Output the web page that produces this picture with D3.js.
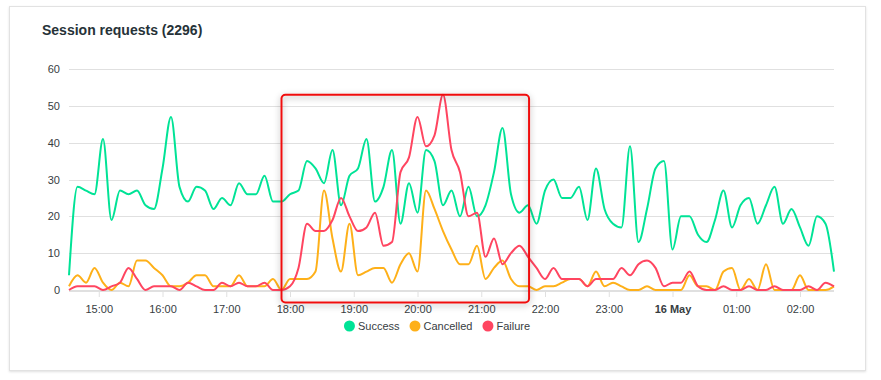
<!DOCTYPE html>
<html>
<head>
<meta charset="utf-8">
<script src="https://cdn.jsdelivr.net/npm/d3@7.9.0/dist/d3.min.js"></script>
<style>
  body { margin: 0; background: #fff; font-family: "Liberation Sans", Arial, Helvetica, sans-serif; }
  svg { display: block; }
</style>
</head>
<body>
<svg id="chart" width="881" height="380"></svg>
<script>
// one sample every 8 minutes, from 14:32 on 15 May
const startTime = new Date(2024, 4, 15, 14, 32);
const stepMinutes = 8;

const success = [4, 28, 27, 26, 41, 19, 27, 26, 27, 23, 22, 33, 47, 28, 24, 28, 27, 22, 25, 23,
  29, 26, 26, 31, 24, 24, 26, 27, 35, 33, 29, 38, 23, 31, 33, 41, 24, 28, 38, 18,
  29, 21, 38, 35, 23, 27, 20, 28, 20, 23, 32, 44, 26, 21, 23, 18, 27, 30, 25, 25,
  28, 19, 33, 22, 18, 17, 39, 13, 22, 33, 35, 11, 20, 20, 15, 13, 19, 27, 17, 23,
  25, 18, 23, 28, 18, 22, 17, 12, 20, 18, 5];
const cancelled = [1, 4, 2, 6, 2, 0, 2, 1, 8, 8, 6, 4, 1, 1, 2, 4, 4, 1, 1, 1,
  4, 1, 1, 1, 3, 0, 3, 3, 3, 5, 27, 14, 5, 18, 4, 5, 6, 6, 2, 7,
  10, 5, 27, 22, 16, 11, 7, 7, 12, 3, 6, 8, 3, 1, 1, 0, 1, 1, 2, 3,
  3, 1, 5, 1, 2, 1, 0, 0, 1, 0, 0, 0, 0, 4, 1, 1, 0, 5, 6, 0,
  3, 0, 7, 0, 0, 0, 4, 0, 0, 0, 1];
const failure = [0, 1, 1, 1, 0, 1, 2, 6, 3, 0, 1, 1, 1, 0, 2, 1, 0, 0, 2, 1,
  2, 1, 1, 2, 0, 0, 1, 6, 18, 16, 16, 19, 25, 20, 16, 17, 21, 12, 13, 32,
  36, 47, 39, 42, 53, 38, 32, 20, 21, 9, 14, 7, 10, 12, 9, 6, 3, 6, 3, 3,
  3, 1, 3, 3, 3, 6, 4, 7, 8, 6, 1, 2, 2, 5, 1, 0, 0, 1, 0, 0,
  1, 0, 0, 1, 0, 0, 0, 1, 0, 2, 1];

const seriesNames = ['Success', 'Cancelled', 'Failure'];
const seriesColors = ['#00E396', '#FEB019', '#FF4560'];

const tickLabels = ['15:00', '16:00', '17:00', '18:00', '19:00', '20:00', '21:00',
  '22:00', '23:00', '16 May', '01:00', '02:00'];
const yTicks = [0, 10, 20, 30, 40, 50, 60];

// highlighted window (red box drawn over the chart)
const highlightFrom = new Date(2024, 4, 15, 17, 52);
const highlightTo = new Date(2024, 4, 15, 21, 45);
const highlightTop = 53;
const highlightBottom = -3.4;

const times = success.map((_, i) => d3.timeMinute.offset(startTime, i * stepMinutes));
const tickTimes = d3.timeHour.range(new Date(2024, 4, 15, 15), new Date(2024, 4, 16, 2, 30));

const svg = d3.select('#chart');
const plot = { left: 69, right: 834, top: 69, bottom: 290 };

const x = d3.scaleTime().domain(d3.extent(times)).range([plot.left, plot.right]);
const y = d3.scaleLinear().domain([0, 60]).range([plot.bottom, plot.top]);

const defs = svg.append('defs');
defs.append('filter').attr('id', 'cardShadow').attr('x', '-5%').attr('y', '-5%').attr('width', '110%').attr('height', '110%')
  .append('feDropShadow').attr('dx', 0).attr('dy', 1).attr('stdDeviation', 1.2)
  .attr('flood-color', '#000').attr('flood-opacity', 0.12);
defs.append('filter').attr('id', 'boxShadow').attr('x', '-10%').attr('y', '-10%').attr('width', '120%').attr('height', '120%')
  .append('feDropShadow').attr('dx', 0).attr('dy', 2).attr('stdDeviation', 3)
  .attr('flood-color', '#000').attr('flood-opacity', 0.35);

// card
svg.append('rect')
  .attr('x', 9.5).attr('y', 6.5).attr('width', 856).attr('height', 364)
  .attr('fill', '#fff').attr('stroke', '#e2e2e2').attr('stroke-width', 1)
  .attr('filter', 'url(#cardShadow)');

svg.append('text')
  .attr('x', 42).attr('y', 35)
  .attr('font-size', 14).attr('font-weight', 'bold').attr('fill', '#263238')
  .text('Session requests (2296)');

// horizontal grid + y labels
svg.append('g')
  .selectAll('line')
  .data(yTicks)
  .join('line')
  .attr('x1', plot.left).attr('x2', plot.right)
  .attr('y1', d => Math.round(y(d)) + 0.5).attr('y2', d => Math.round(y(d)) + 0.5)
  .attr('stroke', '#e0e0e0');

svg.append('g')
  .selectAll('text')
  .data(yTicks)
  .join('text')
  .attr('x', 60).attr('y', d => y(d) + 4)
  .attr('text-anchor', 'end').attr('font-size', 11).attr('fill', '#373d3f')
  .text(d => d);

// x axis
const xAxis = d3.axisBottom(x)
  .tickValues(tickTimes)
  .tickFormat((d, i) => tickLabels[i])
  .tickSize(6)
  .tickPadding(8);

const gx = svg.append('g').attr('transform', `translate(0,${plot.bottom + 1})`).call(xAxis);
gx.select('.domain').attr('stroke', '#e0e0e0').attr('d', `M${plot.left},0.5H${plot.right}`);
gx.selectAll('.tick line').attr('stroke', '#e0e0e0');
gx.selectAll('.tick text')
  .attr('font-size', 11).attr('fill', '#373d3f')
  .attr('font-family', '"Liberation Sans", Arial, sans-serif')
  .attr('font-weight', (d, i) => tickLabels[i] === '16 May' ? 'bold' : 'normal');

// lines
const line = d3.line()
  .x((d, i) => x(times[i]))
  .y(d => y(d))
  .curve(d3.curveMonotoneX);

[success, cancelled, failure].forEach((values, k) => {
  svg.append('path')
    .datum(values)
    .attr('d', line)
    .attr('fill', 'none')
    .attr('stroke', seriesColors[k])
    .attr('stroke-width', 2)
    .attr('stroke-linejoin', 'round');
});

// red highlight box
svg.append('rect')
  .attr('x', x(highlightFrom)).attr('y', y(highlightTop))
  .attr('width', x(highlightTo) - x(highlightFrom))
  .attr('height', y(highlightBottom) - y(highlightTop))
  .attr('rx', 4)
  .attr('fill', 'none')
  .attr('stroke', '#f00f0f').attr('stroke-width', 2)
  .attr('filter', 'url(#boxShadow)');

// legend
const legend = svg.append('g').attr('transform', 'translate(0,326)');
const items = seriesNames.map((name, i) => {
  const g = legend.append('g');
  g.append('circle').attr('r', 5.5).attr('cx', 5.5).attr('cy', 0).attr('fill', seriesColors[i]);
  const t = g.append('text').attr('x', 14).attr('y', 4)
    .attr('font-size', 11).attr('fill', '#373d3f').text(name);
  return { g, w: 14 + t.node().getComputedTextLength() };
});
const gap = 10;
const total = d3.sum(items, d => d.w) + gap * (items.length - 1);
let cx = 437 - total / 2;
items.forEach(item => {
  item.g.attr('transform', `translate(${cx},0)`);
  cx += item.w + gap;
});
</script>
</body>
</html>
